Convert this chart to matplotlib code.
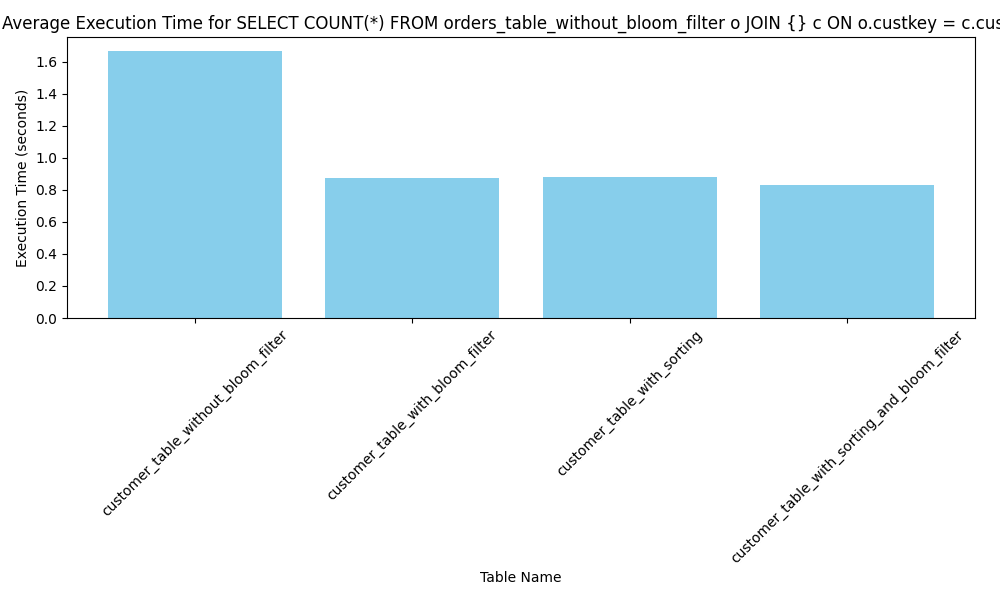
import matplotlib
matplotlib.use("Agg")
import matplotlib.pyplot as plt

tables = [
    "customer_table_without_bloom_filter",
    "customer_table_with_bloom_filter",
    "customer_table_with_sorting",
    "customer_table_with_sorting_and_bloom_filter",
]
avg_times = [1.67, 0.875, 0.88, 0.83]

fig, ax = plt.subplots(figsize=(10, 6), dpi=100)
ax.bar(tables, avg_times, color="skyblue")
ax.set_xlabel("Table Name")
ax.set_ylabel("Execution Time (seconds)")
ax.set_title("Average Execution Time for SELECT COUNT(*) FROM orders_table_without_bloom_filter o JOIN {} c ON o.custkey = c.custkey")
plt.xticks(rotation=45)
fig.subplots_adjust(left=0.067, right=0.975, top=0.938, bottom=0.47)
fig.savefig("out.png")
